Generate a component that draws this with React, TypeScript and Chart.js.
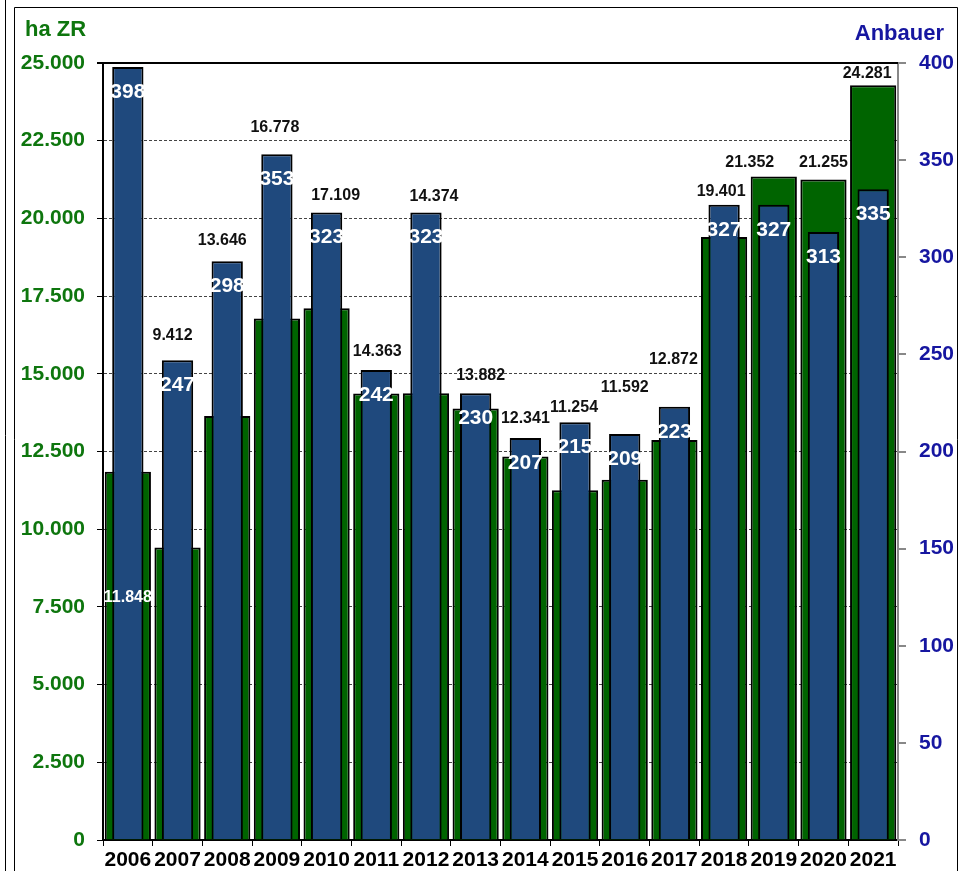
import React, { useEffect, useRef } from 'react';
import { Chart, registerables } from 'chart.js';

Chart.register(...registerables);

const years = ['2006', '2007', '2008', '2009', '2010', '2011', '2012', '2013', '2014', '2015', '2016', '2017', '2018', '2019', '2020', '2021'];
const hectares = [11848, 9412, 13646, 16778, 17109, 14363, 14374, 13882, 12341, 11254, 11592, 12872, 19401, 21352, 21255, 24281];
const growers = [398, 247, 298, 353, 323, 242, 323, 230, 207, 215, 209, 223, 327, 327, 313, 335];

const leftMax = 25000;
const leftStep = 2500;
const rightMax = 400;
const rightStep = 50;

// style: label nudges (px) relative to default "above taller bar" position
const labelNudge: [number, number][] = [
  [0, 549], [-5, -7], [-5, -3], [-2, -9], [9, 1], [1, 0], [8, 2], [5, 0],
  [0, -1], [-1, 3], [0, -28], [-1, -29], [-3, 5], [-24, 4], [0, 1], [-6, 6],
];

const FONT = '"Liberation Sans", Arial, Helvetica, sans-serif';
const GREEN_TXT = '#0E760E';
const BLUE_TXT = '#1616A0';
const GREEN_BAR = '#006400';
const BLUE_BAR = '#1F497D';

const fmtDE = (v: number) => String(Math.round(v)).replace(/\B(?=(\d{3})+(?!\d))/g, '.');

const decor = {
  id: 'decor',
  beforeDraw(chart: any) {
    const ctx = chart.ctx;
    ctx.save();
    ctx.fillStyle = '#fff';
    ctx.fillRect(0, 0, chart.width, chart.height);
    ctx.strokeStyle = '#000';
    ctx.lineWidth = 1;
    ctx.beginPath();
    ctx.moveTo(5.5, 0);
    ctx.lineTo(5.5, chart.height);
    ctx.moveTo(14.5, chart.height);
    ctx.lineTo(14.5, 7.5);
    ctx.lineTo(957.5, 7.5);
    ctx.lineTo(957.5, chart.height);
    ctx.stroke();
    ctx.restore();
  },
  afterDatasetsDraw(chart: any) {
    const ctx = chart.ctx;
    const area = chart.chartArea;
    ctx.save();
    // top plot border
    ctx.strokeStyle = '#000';
    ctx.lineWidth = 2;
    ctx.beginPath();
    ctx.moveTo(area.left - 6, area.top);
    ctx.lineTo(area.right, area.top);
    ctx.stroke();

    const blueMeta = chart.getDatasetMeta(0);
    const greenMeta = chart.getDatasetMeta(1);
    const xs = chart.scales.x;
    ctx.textAlign = 'center';
    ctx.textBaseline = 'middle';
    for (let i = 0; i < years.length; i++) {
      const b = blueMeta.data[i];
      const g = greenMeta.data[i];
      // blue labels
      ctx.font = `bold 21px ${FONT}`;
      ctx.fillStyle = '#fff';
      ctx.fillText(String(growers[i]), b.x, b.y + 25);
      // green labels
      const [dx, dy] = labelNudge[i];
      const top = Math.min(b.y, g.y);
      ctx.font = `bold 16px ${FONT}`;
      ctx.fillStyle = i === 0 ? '#fff' : '#111';
      ctx.fillText(fmtDE(hectares[i]), xs.getPixelForValue(i) + dx, top - 18 + dy);
    }
    ctx.restore();
  },
  afterDraw(chart: any) {
    const ctx = chart.ctx;
    ctx.save();
    ctx.textBaseline = 'alphabetic';
    ctx.font = `bold 22px ${FONT}`;
    ctx.fillStyle = GREEN_TXT;
    ctx.textAlign = 'left';
    ctx.fillText('ha ZR', 25, 36);
    ctx.fillStyle = BLUE_TXT;
    ctx.textAlign = 'right';
    ctx.fillText('Anbauer', 944, 40);
    ctx.restore();
  },
};

export default function App() {
  const ref = useRef<HTMLCanvasElement>(null);
  useEffect(() => {
    document.body.style.margin = '0';
    const chart = new Chart(ref.current!, {
      type: 'bar',
      data: {
        labels: years,
        datasets: [
          {
            label: 'Anbauer',
            data: growers,
            yAxisID: 'y1',
            backgroundColor: BLUE_BAR,
            borderColor: '#000',
            borderWidth: 2,
            barPercentage: 0.63,
            categoryPercentage: 1,
            grouped: false,
            order: 0,
          } as any,
          {
            label: 'ha ZR',
            data: hectares,
            yAxisID: 'y',
            backgroundColor: GREEN_BAR,
            borderColor: '#000',
            borderWidth: 2,
            barPercentage: 0.93,
            categoryPercentage: 1,
            grouped: false,
            order: 1,
          } as any,
        ],
      },
      options: {
        animation: false,
        responsive: false,
        layout: { padding: { top: 63, left: 0, right: 0, bottom: 0 } },
        plugins: { legend: { display: false }, tooltip: { enabled: false } },
        scales: {
          x: {
            offset: true,
            grid: { offset: true, drawOnChartArea: false, drawTicks: true, tickLength: 6, color: '#000', lineWidth: 1 },
            border: { display: true, color: '#000', width: 2 },
            ticks: { font: { family: FONT, size: 21, weight: 'bold' }, color: '#000', padding: 2, maxRotation: 0, autoSkip: false },
            afterFit: (s: any) => { s.height = 31; },
          },
          y: {
            position: 'left',
            min: 0,
            max: leftMax,
            ticks: {
              stepSize: leftStep,
              font: { family: FONT, size: 21, weight: 'bold' },
              color: GREEN_TXT,
              padding: 12,
              callback: (v: any) => fmtDE(Number(v)),
            },
            grid: { color: '#444', lineWidth: 1, tickLength: 6, tickColor: '#000', drawOnChartArea: true },
            border: { display: true, color: '#000', width: 2, dash: [3, 2] },
            afterFit: (s: any) => { s.width = 103; },
          },
          y1: {
            position: 'right',
            min: 0,
            max: rightMax,
            ticks: {
              stepSize: rightStep,
              font: { family: FONT, size: 21, weight: 'bold' },
              color: BLUE_TXT,
              padding: 13,
            },
            grid: { drawOnChartArea: false, tickLength: 8, tickColor: '#888', color: '#888', lineWidth: 2 },
            border: { display: true, color: '#888', width: 2 },
            afterFit: (s: any) => { s.width = 61; },
          },
        },
      } as any,
      plugins: [decor],
    });
    return () => chart.destroy();
  }, []);
  return (
    <div style={{ width: 959, height: 871, position: 'relative' }}>
      <canvas ref={ref} width={959} height={871} style={{ display: 'block' }} />
    </div>
  );
}
